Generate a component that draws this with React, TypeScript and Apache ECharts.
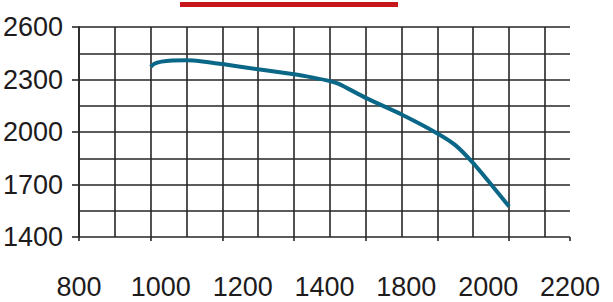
import React, { useEffect, useRef } from "react";
import * as echarts from "echarts";

const speeds = [1000, 1010, 1030, 1060, 1100, 1150, 1200, 1300, 1400, 1450, 1500, 1525, 1600, 1700, 1800, 1850, 1900, 1950, 2000];
const values = [2372, 2390, 2402, 2409, 2410, 2402, 2388, 2358, 2330, 2312, 2291, 2275, 2195, 2100, 1992, 1925, 1822, 1700, 1574];
const xTickLabels = ["800", "1000", "1200", "1400", "1800", "2000", "2200"];

const FONT = "'Liberation Sans', Arial, sans-serif";
const GRID_COLOR = "#262626";
const TEXT_COLOR = "#1e1b1c";

export default function App() {
  const ref = useRef<HTMLDivElement>(null);
  useEffect(() => {
    if (!ref.current) return;
    const chart = echarts.init(ref.current, null, { renderer: "svg" });
    chart.setOption({
      animation: false,
      backgroundColor: "#ffffff",
      grid: { left: 79, right: 43, top: 27, bottom: 65, containLabel: false, outerBoundsMode: "none" },
      graphic: [
        { type: "rect", shape: { x: 180, y: 2, width: 218, height: 5 }, style: { fill: "#c8161d" } },
      ],
      xAxis: [
        {
          type: "value", min: 800, max: 2170, interval: 100,
          axisLine: { show: false }, axisTick: { show: false }, axisLabel: { show: false },
          splitLine: { show: true, showMaxLine: false, lineStyle: { color: GRID_COLOR, width: 1.6 } },
        },
        {
          type: "value", min: 800, max: 2170, interval: 200, position: "bottom",
          axisLine: { show: false },
          axisTick: { show: true, length: 4, lineStyle: { color: GRID_COLOR, width: 1.6 } },
          axisLabel: { show: false }, splitLine: { show: false },
        },
        {
          type: "category", data: xTickLabels, boundaryGap: false, position: "bottom",
          axisLine: { show: false }, axisTick: { show: false }, splitLine: { show: false },
          axisLabel: {
            show: true, interval: 0, margin: 36, showMinLabel: true, showMaxLabel: true,
            hideOverlap: false,
            fontFamily: FONT, fontSize: 27, color: TEXT_COLOR,
          },
        },
      ],
      yAxis: [
        {
          type: "value", min: 1400, max: 2600, interval: 300,
          axisLine: { show: true, lineStyle: { color: GRID_COLOR, width: 1.6 } },
          axisTick: { show: true, length: 7, lineStyle: { color: GRID_COLOR, width: 1.6 } },
          axisLabel: {
            show: true, margin: 16, fontFamily: FONT, fontSize: 27, color: TEXT_COLOR,
            formatter: (v: number) => String(v),
          },
          splitLine: { show: false },
        },
        {
          type: "value", min: 1400, max: 2600, interval: 150, position: "left",
          axisLine: { show: false }, axisTick: { show: false }, axisLabel: { show: false },
          splitLine: { show: true, lineStyle: { color: GRID_COLOR, width: 1.6 } },
        },
      ],
      series: [
        {
          type: "line",
          xAxisIndex: 0,
          yAxisIndex: 0,
          data: speeds.map((s, i) => [s, values[i]]),
          smooth: 0.2,
          showSymbol: false,
          lineStyle: { color: "#0b6787", width: 4 },
        },
      ],
    });
    return () => chart.dispose();
  }, []);
  return <div ref={ref} style={{ width: 613, height: 302, position: "absolute", left: 0, top: 0 }} />;
}
